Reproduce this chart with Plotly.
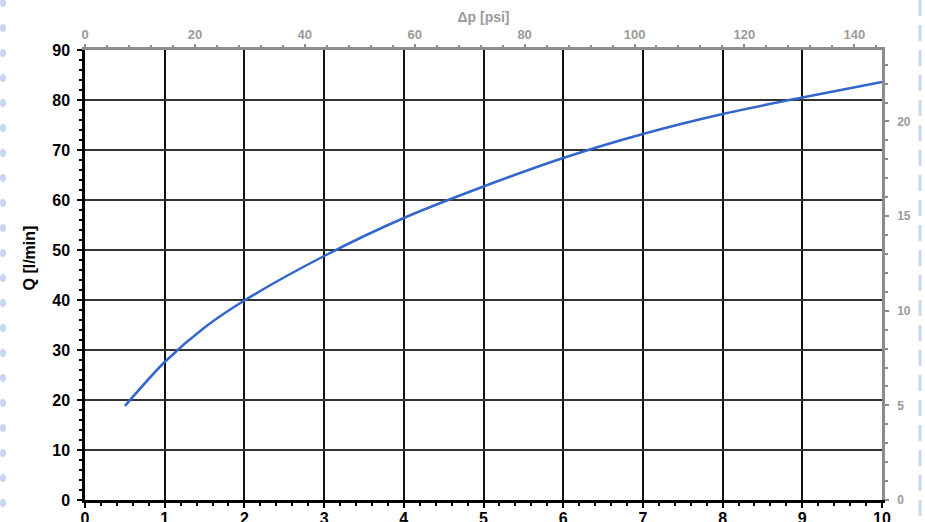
import plotly.graph_objects as go

# data
dp_bar = [0.5, 1.0, 1.5, 2.0, 3.0, 4.0, 5.0, 6.0, 7.0, 8.0, 9.0, 10.0]
q_lpm = [18.8, 27.6, 34.5, 39.9, 48.8, 56.4, 62.7, 68.4, 73.2, 77.2, 80.5, 83.6]

x_range = [0, 10]
y_range = [0, 90]
psi_range = [0, 10 * 14.5038]
gpm_range = [0, 90 / 3.78541]

W, H = 925, 522
L, R, T, B = 85, 43, 50, 22
pw = W - L - R
ph = H - T - B

fig = go.Figure()
fig.add_trace(go.Scatter(
    x=dp_bar, y=q_lpm, mode="lines",
    line=dict(color="#3366cc", width=2.5, shape="spline", smoothing=0.8),
    showlegend=False, hoverinfo="skip"))
# invisible traces to activate secondary axes
fig.add_trace(go.Scatter(x=psi_range, y=[None, None], xaxis="x2", yaxis="y",
                         showlegend=False, hoverinfo="skip"))
fig.add_trace(go.Scatter(x=x_range, y=[None, None], xaxis="x", yaxis="y2",
                         showlegend=False, hoverinfo="skip"))

FAM = "Liberation Sans, Arial, sans-serif"
bold_black = dict(family=FAM, size=16, color="black", weight="bold")
bold_grey = dict(family=FAM, size=13, color="#9a9a9a", weight="bold")

fig.update_layout(
    width=W, height=H,
    margin=dict(l=L, r=R, t=T, b=B, autoexpand=False),
    paper_bgcolor="white", plot_bgcolor="white",
    xaxis=dict(range=x_range, dtick=1, tick0=0, showgrid=True, gridcolor="#111", gridwidth=1.5,
               zeroline=False, showline=True, linecolor="black", linewidth=2.5, automargin=False,
               ticks="outside", ticklen=5, tickwidth=2, tickcolor="black",
               minor=dict(dtick=0.2, ticks="outside", ticklen=3, tickwidth=1.5, tickcolor="black", showgrid=False),
               tickfont=bold_black, ticklabelstandoff=-3, fixedrange=True),
    yaxis=dict(range=y_range, dtick=10, tick0=0, showgrid=True, gridcolor="#333", gridwidth=1.5,
               zeroline=False, showline=True, linecolor="black", linewidth=2.5, automargin=False,
               ticks="outside", ticklen=5, tickwidth=2, tickcolor="black",
               minor=dict(dtick=2, ticks="outside", ticklen=3, tickwidth=1.5, tickcolor="black", showgrid=False),
               tickfont=bold_black, ticklabelstandoff=4, fixedrange=True),
    xaxis2=dict(range=psi_range, overlaying="x", side="top", dtick=20, tick0=0, automargin=False,
                showgrid=False, zeroline=False, showline=True, linecolor="#8c8c8c", linewidth=2.5,
                ticks="outside", ticklen=3, tickwidth=1.5, tickcolor="#8c8c8c",
                minor=dict(dtick=4, ticks="outside", ticklen=2, tickwidth=1.5, tickcolor="#8c8c8c"),
                tickfont=bold_grey,
                title=dict(text="Δp [psi]", font=dict(family=FAM, size=14, color="#9a9a9a", weight="bold"), standoff=2),
                fixedrange=True),
    yaxis2=dict(range=gpm_range, overlaying="y", side="right", dtick=5, tick0=0, automargin=False,
                showgrid=False, zeroline=False, showline=True, linecolor="#8c8c8c", linewidth=2.5,
                ticks="outside", ticklen=4, tickwidth=1.5, tickcolor="#8c8c8c",
                minor=dict(dtick=1, ticks="outside", ticklen=3, tickwidth=1.5, tickcolor="#8c8c8c"),
                tickfont=dict(family=FAM, size=12, color="#9a9a9a", weight="bold"),
                ticklabelstandoff=6,
                fixedrange=True),
)

fig.add_annotation(text="Q [l/min]", textangle=-90, xref="paper", yref="paper",
                   x=(18 - L) / pw, y=(H - B - 258) / ph, showarrow=False,
                   font=dict(family=FAM, size=16, color="black", weight="bold"))

# decorative page border
shapes = []
xl = (3 - L) / pw
for py in range(3, H, 25):
    shapes.append(dict(type="circle", xref="paper", yref="paper", xsizemode="pixel", ysizemode="pixel",
                       xanchor=xl, yanchor=(H - B - py) / ph, x0=-3, x1=3, y0=-4, y1=4,
                       fillcolor="#c8d6ef", line=dict(width=0), layer="below"))
xr = (920 - L) / pw
for py in range(0, H, 25):
    shapes.append(dict(type="rect", xref="paper", yref="paper", xsizemode="pixel", ysizemode="pixel",
                       xanchor=xr, yanchor=(H - B - py) / ph, x0=-1.5, x1=1.5, y0=-16, y1=0,
                       fillcolor="#c8d6ef", line=dict(width=0), layer="below"))
fig.update_layout(shapes=shapes)

fig.write_html("out.html", config={"displayModeBar": False},
               post_script="document.body.style.margin='0';document.body.style.overflow='hidden';")
